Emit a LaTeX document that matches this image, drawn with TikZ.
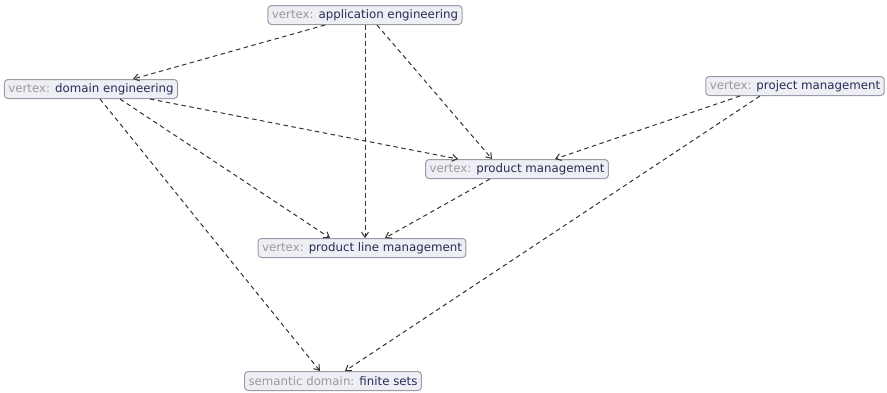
\documentclass[tikz,border=0pt]{standalone}
\usepackage{fontspec}
\setmainfont{DejaVu Sans}
\usetikzlibrary{arrows.meta}
\definecolor{vfill}{HTML}{EEEEF5}
\definecolor{vborder}{HTML}{9C9CA8}
\definecolor{vprefix}{HTML}{9A9A9E}
\definecolor{vname}{HTML}{2A2A55}
\definecolor{edge}{HTML}{333333}
\newcommand{\vx}[2]{{\color{vprefix}#1:} {\color{vname}#2}}
\begin{document}
\begin{tikzpicture}[x=1pt,y=1pt,>={Straight Barb[length=5pt,width=7pt]},
 vertex/.style={draw=vborder,fill=vfill,rounded corners=3.5pt,line width=1pt,inner xsep=4pt,inner ysep=0pt,minimum height=19pt,font=\fontsize{11.8}{13}\selectfont},
 dep/.style={->,draw=edge,line width=1pt,dash pattern=on 4.5pt off 3.5pt}]
 \useasboundingbox (0,0) rectangle (887,-392);
 \node[vertex] (ae) at (365,-15) {\vx{vertex}{application engineering}};
 \node[vertex] (de) at (91,-89) {\vx{vertex}{domain engineering}};
 \node[vertex] (pjm) at (795,-86) {\vx{vertex}{project management}};
 \node[vertex] (pm) at (517,-169) {\vx{vertex}{product management}};
 \node[vertex] (plm) at (362,-248) {\vx{vertex}{product line management}};
 \node[vertex] (fs) at (333,-381) {\vx{semantic domain}{finite sets}};
 % dependencies
 \draw[dep] ([xshift=-40]ae.south) -- ([xshift=42]de.north);
 \draw[dep] ([xshift=0]ae.south) -- ([xshift=3]plm.north);
 \draw[dep] ([xshift=12]ae.south) -- ([xshift=-25]pm.north);
 \draw[dep] ([xshift=59]de.south) -- ([xshift=-59]pm.north);
 \draw[dep] ([xshift=29]de.south) -- ([xshift=-32]plm.north);
 \draw[dep] ([xshift=9]de.south) -- ([xshift=-13]fs.north);
 \draw[dep] ([xshift=-55]pjm.south) -- ([xshift=38]pm.north);
 \draw[dep] ([xshift=-35]pjm.south) -- ([xshift=12]fs.north);
 \draw[dep] ([xshift=-27]pm.south) -- ([xshift=23]plm.north);
\end{tikzpicture}
\end{document}
